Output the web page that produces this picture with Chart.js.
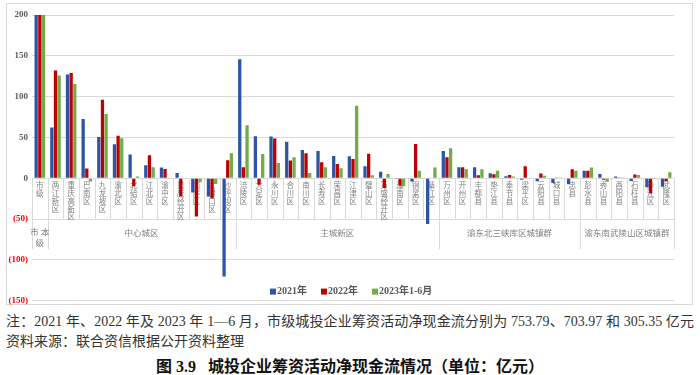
<!DOCTYPE html>
<html>
<head>
<meta charset="utf-8">
<script src="https://cdn.jsdelivr.net/npm/chart.js@4.4.0/dist/chart.umd.min.js"></script>
<style>
    body { margin: 0; background: #fff; width: 700px; height: 375px; overflow: hidden; position: relative; }
    #box { position: absolute; z-index: 0; left: 6px; top: 3px; width: 685px; height: 300px; border: 1px solid #d9d9d9; }
    #grafik { position: absolute; z-index: 2; left: 0; top: 0; width: 700px; height: 310px; }
    .txt { position: absolute; left: 6px; font-family: "Liberation Serif", "Noto Sans CJK SC", serif; color: #333; font-size: 14px; line-height: 20px; white-space: nowrap; }
    #note { top: 312px; width: 688px; text-align-last: justify; }
    #src { top: 332px; }
    #title { position: absolute; left: 0; width: 700px; top: 353px; text-align: center; font-family: "Liberation Serif", "Noto Sans CJK SC", serif; font-weight: bold; font-size: 16px; color: #111; white-space: pre; }
</style>
</head>
<body>
<div id="box"></div>
<canvas id="grafik" width="700" height="310"></canvas>
<div class="txt" id="note">注：2021 年、2022 年及 2023 年 1—6 月，市级城投企业筹资活动净现金流分别为 753.79、703.97 和 305.35 亿元</div>
<div class="txt" id="src">资料来源：联合资信根据公开资料整理</div>
<div id="title">图 3.9   城投企业筹资活动净现金流情况（单位：亿元）</div>
<script>
const categories = ['市级', '两江新区', '重庆高新区', '巴南区', '九龙坡区', '渝北区', '北碚区', '江北区', '渝中区', '重庆经开区', '南岸区', '大渡口区', '沙坪坝区',
    '涪陵区', '大足区', '永川区', '合川区', '南川区', '长寿区', '荣昌区', '江津区', '璧山区', '万盛经开区', '潼南区', '铜梁区', '綦江区',
    '万州区', '开州区', '丰都县', '垫江县', '奉节县', '梁平区', '云阳县', '城口县', '忠县',
    '彭水县', '秀山县', '酉阳县', '石柱县', '黔江区', '武隆区'];
const groupNames = ['市本级', '中心城区', '主城新区', '渝东北三峡库区城镇群', '渝东南武陵山区城镇群'];
const groupSizes = [1, 12, 13, 9, 6];
const seriesNames = ['2021年', '2022年', '2023年1-6月'];
const data2021 = [753.79, 62, 127, 72.6, 50.6, 41.6, 29, 16, 13, 6.5, -17.6, -22.5, -120.5,
    145.7, 51.4, 51, 44.8, 34.7, 33.4, 27.3, 26.9, 14.7, 8, -1, -4, -56,
    33.4, 13.5, 13.5, 6.1, 2.4, -2, -3.7, -6, -7.3,
    9, 5.3, 2, -3.3, -11, -10.6];
const data2022 = [703.97, 132, 129, 12, 96, 52, -10, 28, 11.4, -22.5, -47, -24.5, 22,
    13.5, -8, 48.5, 21.6, 30.6, 19.6, 17.5, 23.6, 30.1, -12, -9, 42, 0.5,
    25.7, 13.5, 3.7, 4.9, 4, 14.7, 5.7, 0.3, 11,
    9, -2, 1, 4.5, -18.8, -3.7];
const data2023 = [305.35, 126, 115.5, -4, 78.7, 49, 2, 13.5, -1, 0.5, -5, -7, 30.6,
    65, 29.8, 18.7, 25.7, 6.5, 13.5, 12.2, 88.9, 3.7, 5.3, -10, 9, 13,
    36.7, 11, 11, 9, 2, 0.5, 2.9, 0.3, 9,
    13, -4.5, 1, 4, -1, 7.3];
const yTickValues = [-150, -100, -50, 0, 50, 100, 150, 200];
const colors = ['#2E55A5', '#C00000', '#70AD47'];

const serif = '"Liberation Serif", "Noto Sans CJK SC", serif';

// category table under the zero line + legend inside the plot
const tablePlugin = {
    id: 'tablePlugin',
    beforeDatasetsDraw(chart) {
        const ctx = chart.ctx;
        const x = chart.scales.x, y = chart.scales.y;
        const w = x.width / categories.length;
        const y0 = y.getPixelForValue(0);
        const y1 = y.getPixelForValue(-50);
        const y2 = y1 + 30;
        ctx.save();
        ctx.strokeStyle = '#d9d9d9';
        ctx.lineWidth = 1;
        const bounds = [0];
        groupSizes.forEach(n => bounds.push(bounds[bounds.length - 1] + n));
        for (let i = 0; i <= categories.length; i++) {
            const px = Math.round(x.left + i * w) + 0.5;
            ctx.beginPath();
            ctx.moveTo(px, y0);
            ctx.lineTo(px, bounds.includes(i) ? y2 : y1);
            ctx.stroke();
        }
        ctx.fillStyle = '#7f7f7f';
        ctx.textAlign = 'center';
        ctx.textBaseline = 'middle';
        ctx.font = '7.5px ' + serif;
        categories.forEach((c, i) => {
            const cx = x.getPixelForValue(i);
            [...c].forEach((ch, k) => ctx.fillText(ch, cx, y0 + 8 + k * 7.8));
        });
        ctx.font = '8.5px ' + serif;
        groupNames.forEach((g, gi) => {
            const a = x.left + bounds[gi] * w, b = x.left + bounds[gi + 1] * w;
            const cx = (a + b) / 2;
            if (ctx.measureText(g).width > b - a - 2) {
                ctx.fillText(g.slice(0, 2).split('').join(' '), cx, y1 + 14);
                ctx.fillText(g.slice(2), cx, y1 + 25);
            } else {
                ctx.fillText(g, cx, y1 + 15);
            }
        });
        ctx.restore();
    },
    afterDraw(chart) {
        const ctx = chart.ctx;
        const y = chart.scales.y;
        ctx.save();
        ctx.font = 'bold 10px ' + serif;
        ctx.textBaseline = 'middle';
        ctx.textAlign = 'left';
        let px = 270;
        const py = y.getPixelForValue(-150) - 9;
        chart.data.datasets.forEach(ds => {
            ctx.fillStyle = ds.backgroundColor;
            ctx.fillRect(px, py - 3, 6, 6);
            ctx.fillStyle = '#595959';
            ctx.fillText(ds.label, px + 7, py);
            px += 7 + ctx.measureText(ds.label).width + 14;
        });
        ctx.restore();
    }
};

const ctx = document.getElementById('grafik').getContext('2d');
new Chart(ctx, {
    type: 'bar',
    data: {
        labels: categories,
        datasets: [data2021, data2022, data2023].map((d, i) => ({
            label: seriesNames[i],
            data: d,
            backgroundColor: colors[i],
            borderWidth: 0,
            categoryPercentage: 0.7,
            barPercentage: 0.9
        }))
    },
    options: {
        responsive: false,
        animation: false,
        layout: { padding: { left: 6, right: 26, top: 15, bottom: 3 } },
        plugins: {
            legend: { display: false },
            tooltip: { enabled: false }
        },
        scales: {
            x: { display: false },
            y: {
                min: yTickValues[0],
                max: yTickValues[yTickValues.length - 1],
                afterFit: function(scale) { scale.width = 26; },
                afterBuildTicks: function(scale) {
                    scale.ticks = yTickValues.map(v => ({ value: v }));
                },
                grid: { color: '#d9d9d9', drawTicks: false },
                border: { display: false },
                ticks: {
                    autoSkip: false,
                    padding: 4,
                    font: { family: serif, size: 9, weight: 'bold' },
                    color: function(c) { return c.tick && c.tick.value < 0 ? '#FF0000' : '#595959'; },
                    callback: function(value) {
                        return value < 0 ? '(' + Math.abs(value) + ')' : value;
                    }
                }
            }
        }
    },
    plugins: [tablePlugin]
});
</script>
</body>
</html>
